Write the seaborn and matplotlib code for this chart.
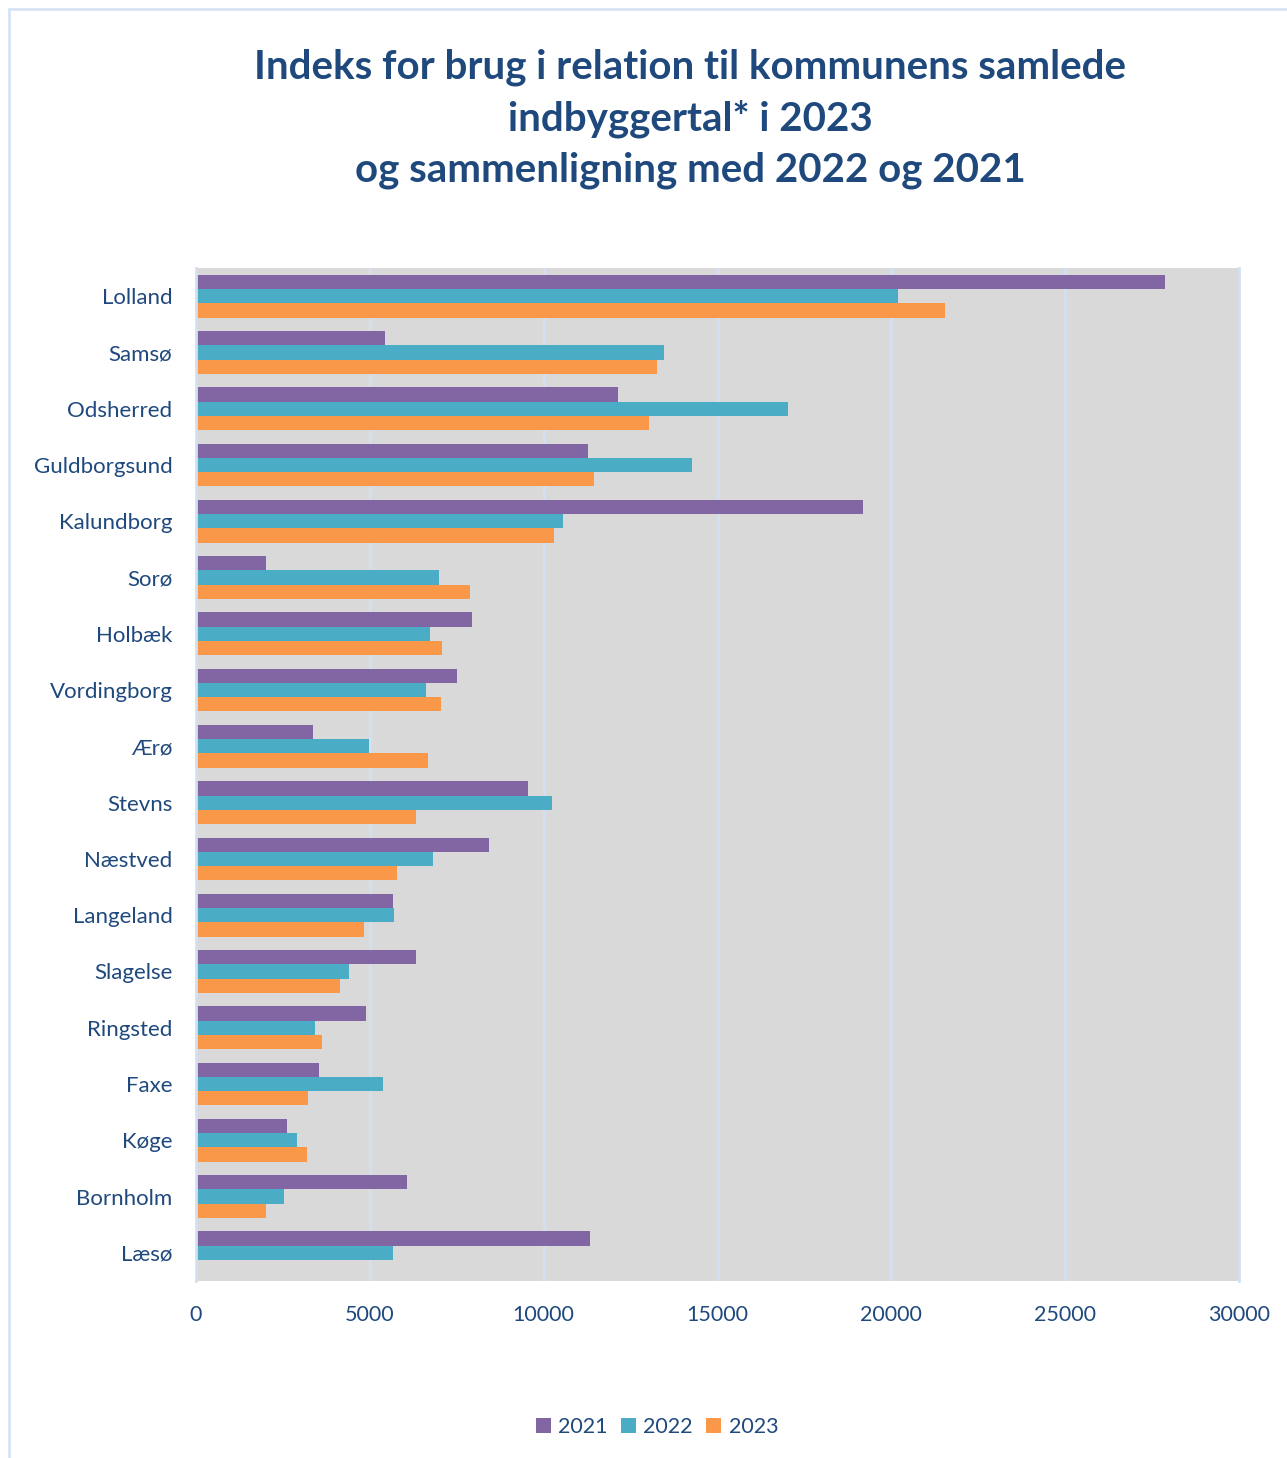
import matplotlib
matplotlib.use("Agg")
import matplotlib.pyplot as plt
import seaborn as sns
import pandas as pd
import numpy as np
from matplotlib.patches import Rectangle

categories = ["Lolland", "Samsø", "Odsherred", "Guldborgsund", "Kalundborg", "Sorø",
              "Holbæk", "Vordingborg", "Ærø", "Stevns", "Næstved", "Langeland",
              "Slagelse", "Ringsted", "Faxe", "Køge", "Bornholm", "Læsø"]
v2021 = [27870, 5440, 12140, 11280, 19190, 2010, 7940, 7510, 3370, 9550, 8430, 5670,
         6330, 4890, 3540, 2620, 6070, 11330]
v2022 = [20190, 13460, 17030, 14270, 10560, 6990, 6730, 6620, 4980, 10240, 6820, 5700,
         4400, 3420, 5380, 2910, 2530, 5670]
v2023 = [21540, 13260, 13030, 11450, 10300, 7880, 7080, 7050, 6670, 6330, 5780, 4830,
         4140, 3620, 3220, 3190, 2010, np.nan]
years = ["2021", "2022", "2023"]
colors = ["#8266a4", "#4bacc6", "#f89848"]

df = pd.concat([
    pd.DataFrame({"Kommune": categories, "Værdi": v, "År": y})
    for v, y in zip([v2021, v2022, v2023], years)
], ignore_index=True)

sns.set_theme(style="white")
plt.rcParams["font.family"] = ["Lato", "DejaVu Sans"]

TXT = "#1f497d"
GRID = "#d3e0f2"

fig = plt.figure(figsize=(12.87, 14.58), dpi=100)
ax = fig.add_axes([196/1287, 1 - 1281/1458, (1239-196)/1287, (1281-268)/1458])

sns.barplot(data=df, y="Kommune", x="Værdi", hue="År", hue_order=years,
            palette=colors, orient="h", width=0.76, linewidth=0, ax=ax,
            order=categories, errorbar=None, saturation=1)

ax.set_facecolor("#d9d9d9")
ax.set_xlim(0, 30000)
ax.set_ylim(len(categories) - 0.5, -0.5)
ax.set_xticks(np.arange(0, 30001, 5000))
ax.set_xticklabels([str(t) for t in range(0, 30001, 5000)])
ax.xaxis.grid(True, color=GRID, linewidth=2)
ax.yaxis.grid(False)
ax.set_axisbelow(True)
for s in ["top", "bottom"]:
    ax.spines[s].set_visible(False)
for s in ["left", "right"]:
    ax.spines[s].set_color(GRID)
    ax.spines[s].set_linewidth(2)
ax.set_xlabel("")
ax.set_ylabel("")
ax.tick_params(axis="y", length=0, pad=17, labelsize=16, labelcolor=TXT)
ax.tick_params(axis="x", length=0, pad=17, labelsize=15.5, labelcolor=TXT)

leg = ax.legend(loc="center", bbox_to_anchor=(657/1287, 1 - 1427/1458),
                bbox_transform=fig.transFigure, ncol=3, frameon=False,
                fontsize=15.5, handlelength=0.7, handleheight=0.7, handletextpad=0.35,
                columnspacing=0.6, labelcolor=TXT)

fig.text(690/1287, 1 - 119/1458,
         "Indeks for brug i relation til kommunens samlede\nindbyggertal* i 2023\nog sammenligning med 2022 og 2021",
         ha="center", va="center", fontsize=29, fontweight="bold", color=TXT,
         linespacing=1.45)

fig.patches.append(Rectangle((9/1287, -0.05), 1.2, 1 - 9/1458 + 0.05,
                             transform=fig.transFigure, fill=False,
                             edgecolor="#d6e3f5", linewidth=2))

fig.savefig("out.png", dpi=100)
